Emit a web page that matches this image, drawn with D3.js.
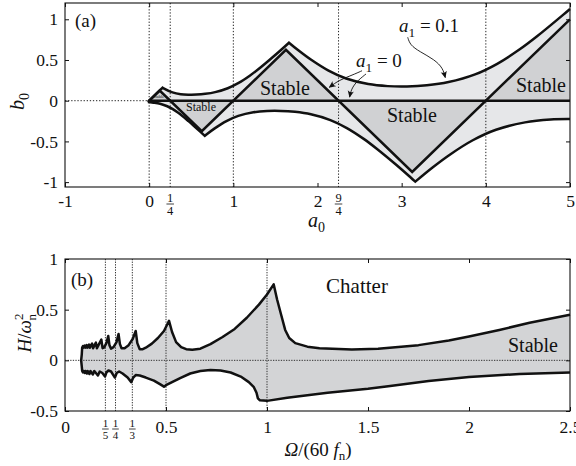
<!DOCTYPE html>
<html><head><meta charset="utf-8">
<script src="https://cdn.jsdelivr.net/npm/d3@7"></script>
<style>
body{margin:0;background:#fff}
svg{display:block}
text{font-family:'Liberation Serif','DejaVu Serif',serif;fill:#111}
</style>
</head><body>
<svg id="c" width="576" height="466"></svg>
<script>
// ================= DATA: panel (a) =================
const aTicks = [-1, 0, 1, 2, 3, 4, 5];
const aTickLabels = ["-1", "0", "1", "2", "3", "4", "5"];
const aFracTicks = [[0.25, "1", "4"], [2.25, "9", "4"]];
const bTicks = [-1, -0.5, 0, 0.5, 1];
const bTickLabels = ["-1", "-0.5", "0", "0.5", "1"];
const aDotted = [0, 0.25, 1, 2.25, 4];

// a1 = 0.1 boundary (upper part, three branches)
const upperLineA = [[-0.016, -0.016], [0.160, 0.160]];
const upperB2 = [[0.160, 0.160], [0.172, 0.152], [0.277, 0.102], [0.375, 0.080], [0.467, 0.074], [0.563, 0.075], [0.666, 0.084], [0.784, 0.105], [0.934, 0.153], [1.063, 0.218], [1.195, 0.307], [1.296, 0.386], [1.449, 0.518], [1.566, 0.623], [1.661, 0.712]];
const upperB4 = [[1.661, 0.712], [1.772, 0.619], [1.925, 0.502], [2.131, 0.369], [2.340, 0.272], [2.603, 0.204], [2.835, 0.179], [3.063, 0.175], [3.299, 0.189], [3.557, 0.229], [3.872, 0.323], [4.135, 0.453], [4.403, 0.631], [4.605, 0.788], [4.914, 1.051], [5.0, 1.127]];
// a1 = 0.1 boundary (lower part)
const lowerB1 = [[-0.016, -0.016], [-0.013, -0.0162], [-0.004, -0.017], [0.012, -0.0185], [0.034, -0.021], [0.063, -0.025], [0.100, -0.0315], [0.148, -0.043], [0.215, -0.068], [0.276, -0.101], [0.341, -0.146], [0.391, -0.185], [0.467, -0.251], [0.526, -0.304], [0.610, -0.383], [0.661, -0.432]];
const lowerB3 = [[0.661, -0.432], [0.677, -0.418], [0.779, -0.340], [0.918, -0.251], [1.059, -0.187], [1.239, -0.142], [1.401, -0.126], [1.563, -0.125], [1.732, -0.137], [1.921, -0.167], [2.153, -0.238], [2.349, -0.336], [2.549, -0.469], [2.700, -0.587], [2.931, -0.784], [3.107, -0.943], [3.162, -0.994]];
const lowerB5 = [[3.162, -0.994], [3.367, -0.820], [3.572, -0.663], [3.845, -0.486], [4.121, -0.357], [4.466, -0.266], [4.769, -0.231], [5.0, -0.226]];

// a1 = 0 boundary: zig-zag and b0 = 0 line
const zigzag = [[0, 0], [0.125, 0.125], [0.625, -0.375], [1.625, 0.625], [3.125, -0.875], [5, 1]];
const zeroLine = [[0, 0], [5, 0]];
const stableTriangles = [
  [[0, 0], [0.125, 0.125], [0.25, 0]],
  [[0.25, 0], [0.625, -0.375], [1, 0]],
  [[1, 0], [1.625, 0.625], [2.25, 0]],
  [[2.25, 0], [3.125, -0.875], [4, 0]],
  [[4, 0], [5, 1], [5, 0]]
];
// annotation arrows (data coordinates)
const arrowA01 = [[3.072, 0.779], [3.100, 0.685], [3.210, 0.605], [3.390, 0.505], [3.490, 0.400], [3.518, 0.285]];
const arrowA0a = [[2.529, 0.368], [2.418, 0.316], [2.259, 0.254], [2.140, 0.165]];
const arrowA0b = [[2.576, 0.328], [2.457, 0.230], [2.398, 0.131], [2.382, 0.045]];

// ================= DATA: panel (b) =================
const omTicks = [0, 0.5, 1, 1.5, 2, 2.5];
const omTickLabels = ["0", "0.5", "1", "1.5", "2", "2.5"];
const omFracTicks = [[0.2, "1", "5"], [0.25, "1", "4"], [1 / 3, "1", "3"]];
const hTicks = [-0.5, 0, 0.5, 1];
const hTickLabels = ["-0.5", "0", "0.5", "1"];
const omDotted = [0.2, 0.25, 1 / 3, 0.5, 1];

const upperH = [[0.085, 0.125], [0.089, 0.14], [0.092, 0.125], [0.097, 0.145], [0.101, 0.125], [0.107, 0.15], [0.111, 0.125], [0.119, 0.155], [0.123, 0.125], [0.134, 0.165], [0.139, 0.12], [0.153, 0.175], [0.158, 0.12], [0.180, 0.205], [0.186, 0.12], [0.193, 0.125], [0.205, 0.17], [0.214, 0.24], [0.220, 0.15], [0.228, 0.115], [0.240, 0.13], [0.255, 0.18], [0.265, 0.26], [0.272, 0.16], [0.280, 0.12], [0.295, 0.12], [0.315, 0.15], [0.335, 0.21], [0.350, 0.29], [0.358, 0.17], [0.370, 0.11], [0.385, 0.11], [0.40, 0.125], [0.43, 0.165], [0.46, 0.22], [0.49, 0.29], [0.515, 0.39], [0.53, 0.28], [0.55, 0.18], [0.575, 0.13], [0.60, 0.11], [0.63, 0.105], [0.67, 0.115], [0.72, 0.16], [0.78, 0.23], [0.84, 0.31], [0.90, 0.42], [0.96, 0.55], [1.00, 0.65], [1.033, 0.75], [1.05, 0.60], [1.07, 0.45], [1.09, 0.30], [1.11, 0.22], [1.14, 0.17], [1.20, 0.135], [1.26, 0.12], [1.42, 0.108], [1.55, 0.115], [1.75, 0.15], [1.90, 0.195], [2.0, 0.235], [2.15, 0.30], [2.3, 0.37], [2.5, 0.45]];
const lowerH = [[0.085, -0.105], [0.089, -0.12], [0.093, -0.105], [0.098, -0.125], [0.102, -0.105], [0.108, -0.13], [0.112, -0.105], [0.121, -0.135], [0.126, -0.105], [0.138, -0.14], [0.145, -0.105], [0.163, -0.15], [0.172, -0.11], [0.185, -0.125], [0.198, -0.16], [0.205, -0.12], [0.215, -0.10], [0.228, -0.11], [0.247, -0.17], [0.256, -0.125], [0.268, -0.11], [0.285, -0.13], [0.31, -0.17], [0.328, -0.215], [0.338, -0.17], [0.35, -0.145], [0.37, -0.15], [0.40, -0.17], [0.44, -0.20], [0.47, -0.235], [0.49, -0.26], [0.50, -0.245], [0.53, -0.215], [0.57, -0.175], [0.62, -0.13], [0.67, -0.105], [0.72, -0.095], [0.77, -0.10], [0.82, -0.12], [0.87, -0.16], [0.91, -0.215], [0.935, -0.265], [0.948, -0.32], [0.955, -0.375], [0.965, -0.395], [1.0, -0.40], [1.1, -0.37], [1.3, -0.32], [1.5, -0.28], [1.6, -0.255], [1.8, -0.205], [2.0, -0.165], [2.25, -0.135], [2.5, -0.12]];
const leftEdgeH = [[0.085, -0.105], [0.083, -0.06], [0.080, 0], [0.083, 0.06], [0.085, 0.125]];

// ================= DRAWING =================
const svg = d3.select('#c');
const INK = '#111';
const LW = 2.5;

function joinPaths(segs, x, y, curve) {
  return segs.map((s, i) => {
    const p = d3.line().x(d => x(d[0])).y(d => y(d[1])).curve(curve)(s);
    return i ? 'L' + p.slice(1) : p;
  }).join('');
}
function defsArrow() {
  const defs = svg.append('defs');
  defs.append('marker').attr('id', 'ah').attr('viewBox', '0 0 10 10').attr('refX', 9).attr('refY', 5)
    .attr('markerWidth', 7).attr('markerHeight', 7).attr('orient', 'auto').attr('markerUnits', 'userSpaceOnUse')
    .append('path').attr('d', 'M0,0.5 Q4,5 0,9.5 L10,5 Z').attr('fill', INK);
}
defsArrow();

function axes(g, x, y, xt, xl, yt, yl, xpad) {
  const [x0, x1] = x.range();
  const [y0, y1] = y.range();
  const font = g => g.attr('font-family', "'Liberation Serif',serif").attr('font-size', 17.5);
  const gb = g.append('g').attr('transform', `translate(0,${y0})`)
    .call(d3.axisBottom(x).tickValues(xt).tickSizeInner(-4).tickSizeOuter(0).tickPadding(xpad).tickFormat((d, i) => xl[i])).call(font);
  const gt = g.append('g').attr('transform', `translate(0,${y1})`)
    .call(d3.axisTop(x).tickValues(xt).tickSizeInner(-4).tickSizeOuter(0).tickFormat(''));
  const gl = g.append('g').attr('transform', `translate(${x0},0)`)
    .call(d3.axisLeft(y).tickValues(yt).tickSizeInner(-4).tickSizeOuter(0).tickPadding(7).tickFormat((d, i) => yl[i])).call(font);
  const gr = g.append('g').attr('transform', `translate(${x1},0)`)
    .call(d3.axisRight(y).tickValues(yt).tickSizeInner(-4).tickSizeOuter(0).tickFormat(''));
  [gb, gt, gl, gr].forEach(a => { a.select('.domain').remove(); a.selectAll('line').attr('stroke', INK).attr('stroke-width', 1); a.selectAll('text').attr('fill', INK); });
  g.append('rect').attr('x', x0).attr('y', y1).attr('width', x1 - x0).attr('height', y0 - y1)
    .attr('fill', 'none').attr('stroke', INK).attr('stroke-width', 1.1);
}
function fracLabel(g, px, py, num, den, fs) {
  const t = g.append('g').attr('transform', `translate(${px},${py})`);
  t.append('text').attr('text-anchor', 'middle').attr('y', -2).attr('font-size', fs).text(num);
  t.append('line').attr('x1', -fs * 0.3).attr('x2', fs * 0.3).attr('y1', 0).attr('y2', 0).attr('stroke', INK).attr('stroke-width', 0.8);
  t.append('text').attr('text-anchor', 'middle').attr('y', fs * 0.9).attr('font-size', fs).text(den);
}

// ---------- panel (a) ----------
const xA = d3.scaleLinear().domain([-1, 5]).range([65, 570]);
const yA = d3.scaleLinear().domain([-1.06, 1.2]).range([187, 3]);
const gA = svg.append('g');
const cr = d3.curveCatmullRom.alpha(0.5);

const regionPath = joinPaths([upperLineA, upperB2, upperB4, lowerB5.slice().reverse(), lowerB3.slice().reverse(), lowerB1.slice().reverse()], xA, yA, cr) + 'Z';
gA.append('path').attr('d', regionPath).attr('fill', '#e6e7e9').attr('stroke', 'none');
stableTriangles.forEach(tri => {
  gA.append('path').attr('d', d3.line().x(d => xA(d[0])).y(d => yA(d[1]))(tri) + 'Z').attr('fill', '#d0d1d3');
});
aDotted.forEach(v => gA.append('line').attr('x1', xA(v)).attr('x2', xA(v)).attr('y1', yA.range()[1]).attr('y2', yA.range()[0])
  .attr('stroke', '#222').attr('stroke-width', 1).attr('stroke-dasharray', '1.3,1.8'));
gA.append('line').attr('x1', xA(-1)).attr('x2', xA(0)).attr('y1', yA(0)).attr('y2', yA(0))
  .attr('stroke', '#222').attr('stroke-width', 1).attr('stroke-dasharray', '1.3,1.8');
gA.append('path').attr('d', joinPaths([upperLineA, upperB2, upperB4], xA, yA, cr)).attr('fill', 'none').attr('stroke', INK).attr('stroke-width', LW).attr('stroke-linejoin', 'miter');
gA.append('path').attr('d', joinPaths([lowerB1, lowerB3, lowerB5], xA, yA, cr)).attr('fill', 'none').attr('stroke', INK).attr('stroke-width', LW).attr('stroke-linejoin', 'miter');
gA.append('path').attr('d', d3.line().x(d => xA(d[0])).y(d => yA(d[1]))(zigzag)).attr('fill', 'none').attr('stroke', INK).attr('stroke-width', LW).attr('stroke-linejoin', 'miter');
gA.append('path').attr('d', d3.line().x(d => xA(d[0])).y(d => yA(d[1]))(zeroLine)).attr('fill', 'none').attr('stroke', INK).attr('stroke-width', LW);

axes(gA, xA, yA, aTicks, aTickLabels, bTicks, bTickLabels, 8);
aFracTicks.forEach(f => fracLabel(gA, xA(f[0]), 204, f[1], f[2], 12.5));

[arrowA01, arrowA0a, arrowA0b].forEach(ar => {
  gA.append('path').attr('d', d3.line().x(d => xA(d[0])).y(d => yA(d[1])).curve(d3.curveBasis)(ar))
    .attr('fill', 'none').attr('stroke', INK).attr('stroke-width', 0.9).attr('marker-end', 'url(#ah)');
});

gA.append('text').attr('x', 75).attr('y', 27).attr('font-size', 19).text('(a)');
gA.append('text').attr('x', 285).attr('y', 95).attr('font-size', 20).attr('text-anchor', 'middle').text('Stable');
gA.append('text').attr('x', 412).attr('y', 122).attr('font-size', 20).attr('text-anchor', 'middle').text('Stable');
gA.append('text').attr('x', 541).attr('y', 92).attr('font-size', 20).attr('text-anchor', 'middle').text('Stable');
gA.append('text').attr('x', 201).attr('y', 111).attr('font-size', 12).attr('text-anchor', 'middle').text('Stable');
gA.append('text').attr('x', 158.5).attr('y', 98).attr('font-size', 4.5).attr('text-anchor', 'middle').text('Stable');
function mathLabel(g, x, y, fs, base, sub, rest) {
  const t = g.append('text').attr('x', x).attr('y', y).attr('font-size', fs);
  t.append('tspan').attr('font-style', 'italic').text(base);
  t.append('tspan').attr('font-size', fs * 0.7).attr('dy', fs * 0.25).text(sub);
  if (rest) t.append('tspan').attr('dy', -fs * 0.25).text(rest);
  return t;
}
mathLabel(gA, 399, 32, 19, 'a', '1', ' = 0.1');
mathLabel(gA, 356, 67, 19, 'a', '1', ' = 0');
mathLabel(gA, 308, 227, 20, 'a', '0');
const by = mathLabel(gA, 0, 0, 20, 'b', '0');
by.attr('transform', 'translate(24,110) rotate(-90)');

// ---------- panel (b) ----------
const xB = d3.scaleLinear().domain([0, 2.5]).range([65, 570]);
const yB = d3.scaleLinear().domain([-0.5, 1]).range([411, 259]);
const gB = svg.append('g');
const lin = d3.curveLinear;
const regionB = joinPaths([upperH, lowerH.slice().reverse(), leftEdgeH], xB, yB, lin) + 'Z';
gB.append('path').attr('d', regionB).attr('fill', '#d3d4d6').attr('stroke', 'none');
omDotted.forEach(v => gB.append('line').attr('x1', xB(v)).attr('x2', xB(v)).attr('y1', yB.range()[1]).attr('y2', yB.range()[0])
  .attr('stroke', '#333').attr('stroke-width', 1).attr('stroke-dasharray', '1.3,1.3'));
gB.append('line').attr('x1', xB(0)).attr('x2', xB(2.5)).attr('y1', yB(0)).attr('y2', yB(0))
  .attr('stroke', '#333').attr('stroke-width', 1).attr('stroke-dasharray', '1.3,1.3');
gB.append('path').attr('d', joinPaths([lowerH.slice().reverse(), leftEdgeH, upperH], xB, yB, lin))
  .attr('fill', 'none').attr('stroke', INK).attr('stroke-width', LW).attr('stroke-linejoin', 'round');

axes(gB, xB, yB, omTicks, omTickLabels, hTicks, hTickLabels, 10);
omFracTicks.forEach(f => fracLabel(gB, xB(f[0]), 429, f[1], f[2], 11));

gB.append('text').attr('x', 71).attr('y', 286).attr('font-size', 19).text('(b)');
gB.append('text').attr('x', 357).attr('y', 293).attr('font-size', 21).attr('text-anchor', 'middle').text('Chatter');
gB.append('text').attr('x', 533).attr('y', 352).attr('font-size', 20).attr('text-anchor', 'middle').text('Stable');
const yl = gB.append('text').attr('font-size', 19).attr('transform', 'translate(31,333) rotate(-90)').attr('text-anchor', 'middle');
yl.append('tspan').attr('font-style', 'italic').text('H');
yl.append('tspan').text('/');
yl.append('tspan').attr('font-style', 'italic').text('ω');
yl.append('tspan').attr('font-size', 13).attr('dy', -8).text('2');
yl.append('tspan').attr('font-size', 13).attr('dx', -7).attr('dy', 13).text('n');
const xl = gB.append('text').attr('font-size', 19).attr('x', 318).attr('y', 456).attr('text-anchor', 'middle');
xl.append('tspan').attr('font-style', 'italic').text('Ω');
xl.append('tspan').text('/(60');
xl.append('tspan').attr('font-style', 'italic').text(' f');
xl.append('tspan').attr('font-size', 13).attr('dy', 4).text('n');
xl.append('tspan').attr('dy', -4).text(')');
</script>
</body></html>
